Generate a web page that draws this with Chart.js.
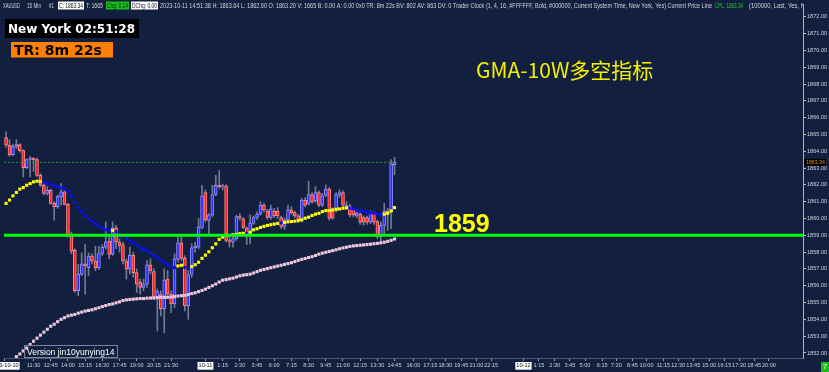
<!DOCTYPE html>
<html><head><meta charset="utf-8">
<script src="https://cdn.jsdelivr.net/npm/chart.js@4.4.0/dist/chart.umd.min.js"></script>
<style>html,body{margin:0;padding:0;background:#131f3f;overflow:hidden}#wrap{width:829px;height:372px;position:relative}</style>
</head><body><div id="wrap"><canvas id="c"></canvas></div>
<script>
// ---- data (15-min XAUUSD bars, slot 0 = 10-10 09:30) ----
const opens = [1864.82,1864.37,1863.80,1864.29,1864.40,1864.04,1863.02,1863.51,1863.60,1863.51,
 1862.57,1861.98,1861.49,1861.68,1860.90,1860.70,1861.30,1861.59,1860.84,1859.04,
 1858.10,1855.71,1856.69,1857.31,1857.08,1857.76,1857.47,1857.08,1857.92,1858.30,
 1858.65,1857.90,1859.45,1858.60,1858.45,1857.47,1856.98,1857.82,1856.78,1856.20,
 1855.90,1856.10,1857.25,1856.84,1855.31,1855.47,1854.63,1856.39,1855.51,1854.92,
 1857.57,1858.55,1857.63,1854.82,1856.69,1858.26,1858.30,1859.47,1861.55,1859.88,
 1860.20,1861.43,1861.98,1861.88,1861.94,1858.69,1858.60,1858.80,1860.12,1859.98,
 1859.43,1859.04,1859.73,1860.06,1860.26,1860.80,1860.45,1860.06,1860.45,1860.45,
 1860.06,1859.53,1859.92,1860.51,1860.35,1860.16,1859.88,1861.10,1860.90,1861.43,
 1861.04,1861.55,1860.80,1861.39,1861.75,1860.51,1860.51,1861.39,1861.55,1860.71,
 1860.71,1860.51,1860.16,1860.26,1860.06,1860.06,1859.78,1860.31,1859.82,1858.94,
 1859.59,1860.45,1860.41,1863.20];
const highs = [1865.16,1864.69,1864.43,1864.69,1864.45,1864.10,1863.55,1863.70,1863.62,1863.60,
 1862.67,1862.10,1861.90,1861.75,1861.00,1861.40,1862.08,1861.65,1860.90,1859.20,
 1858.20,1857.27,1857.96,1858.45,1857.96,1857.90,1858.35,1858.35,1858.45,1859.80,
 1859.00,1859.80,1859.60,1858.80,1858.60,1857.60,1858.30,1858.00,1857.00,1856.40,
 1856.40,1857.50,1857.60,1857.00,1855.80,1855.70,1857.00,1856.90,1855.70,1857.90,
 1858.94,1859.00,1857.80,1856.90,1858.50,1858.60,1860.00,1861.98,1861.70,1860.30,
 1861.98,1862.57,1862.86,1862.05,1862.00,1858.94,1859.00,1860.20,1860.30,1860.05,
 1859.50,1860.22,1860.15,1860.40,1861.00,1860.90,1860.55,1860.80,1860.60,1860.65,
 1860.15,1860.05,1860.80,1860.70,1860.45,1860.25,1861.20,1861.25,1862.22,1861.55,
 1861.90,1861.65,1861.50,1862.00,1861.85,1860.65,1861.55,1861.70,1861.65,1861.00,
 1860.85,1860.60,1860.45,1860.35,1860.15,1860.15,1860.45,1860.40,1859.90,1859.80,
 1860.90,1860.60,1863.50,1863.64];
const lows = [1864.25,1863.70,1863.74,1864.14,1863.95,1862.47,1862.96,1862.47,1862.80,1862.50,
 1861.90,1861.40,1861.40,1860.85,1859.90,1860.60,1860.80,1860.80,1858.90,1857.90,
 1855.60,1855.41,1856.60,1855.50,1856.60,1857.30,1856.90,1856.95,1857.80,1858.20,
 1857.60,1857.80,1858.20,1858.00,1857.30,1856.40,1856.70,1856.50,1855.60,1855.50,
 1855.70,1855.90,1856.70,1855.20,1853.30,1854.20,1853.20,1855.30,1854.40,1854.70,
 1857.40,1857.50,1854.50,1854.00,1856.50,1858.00,1858.20,1859.40,1859.80,1859.04,
 1860.10,1861.35,1861.80,1861.70,1858.60,1858.30,1858.30,1858.70,1859.90,1859.40,
 1858.45,1858.49,1859.65,1859.95,1860.20,1860.40,1859.95,1859.95,1860.05,1860.00,
 1859.40,1859.35,1859.85,1860.25,1860.05,1859.75,1859.80,1860.70,1860.80,1860.90,
 1860.95,1860.70,1860.70,1861.30,1859.90,1859.95,1860.40,1861.25,1860.70,1860.60,
 1860.10,1860.10,1860.05,1859.65,1859.60,1859.65,1859.70,1859.65,1858.80,1858.60,
 1859.00,1859.30,1859.40,1862.60];
const closes = [1864.37,1863.80,1864.29,1864.40,1864.04,1863.02,1863.51,1863.60,1863.50,1862.57,
 1861.98,1861.49,1861.68,1860.90,1860.70,1861.30,1861.59,1860.84,1859.04,1858.06,
 1855.71,1856.69,1857.31,1857.20,1857.76,1857.47,1857.08,1857.92,1858.30,1858.61,
 1857.86,1859.45,1858.60,1858.40,1857.47,1856.98,1857.82,1856.78,1856.10,1855.90,
 1856.10,1857.25,1856.88,1855.31,1855.65,1854.63,1856.33,1855.51,1854.92,1857.60,
 1858.55,1857.63,1854.82,1856.65,1858.26,1858.35,1859.50,1861.35,1859.92,1860.22,
 1861.43,1861.98,1861.88,1861.92,1858.69,1858.59,1858.80,1860.12,1860.02,1859.47,
 1859.14,1859.73,1860.06,1860.26,1860.80,1860.51,1860.06,1860.57,1860.16,1860.16,
 1859.53,1859.92,1860.51,1860.35,1860.16,1859.88,1861.10,1860.80,1861.43,1861.00,
 1861.55,1860.80,1861.35,1861.75,1860.02,1860.02,1861.43,1861.55,1860.80,1860.80,
 1860.22,1860.22,1860.31,1859.78,1859.78,1859.78,1860.31,1859.78,1858.94,1859.59,
 1860.45,1860.31,1863.25,1863.34];
// GMA-10W dotted line and its trend (U = yellow, D = blue)
const gmaValues = [1860.90,1861.10,1861.35,1861.55,1861.75,1861.84,1861.98,1862.08,1862.18,1862.22,
 1862.20,1862.14,1862.10,1862.02,1861.94,1861.88,1861.82,1861.78,1861.63,1861.35,
 1860.96,1860.65,1860.41,1860.16,1859.98,1859.82,1859.67,1859.53,1859.43,1859.33,
 1859.31,1859.29,1859.20,1859.04,1858.94,1858.80,1858.69,1858.55,1858.41,1858.26,
 1858.16,1858.10,1857.96,1857.82,1857.67,1857.51,1857.37,1857.27,1857.12,1857.08,
 1857.18,1857.22,1857.08,1857.04,1857.14,1857.25,1857.40,1857.63,1857.82,1858.02,
 1858.26,1858.49,1858.76,1858.90,1859.00,1859.02,1859.04,1859.06,1859.10,1859.12,
 1859.12,1859.18,1859.33,1859.39,1859.47,1859.53,1859.59,1859.63,1859.67,1859.71,
 1859.75,1859.77,1859.80,1859.82,1859.84,1859.88,1859.92,1860.02,1860.08,1860.18,
 1860.26,1860.31,1860.41,1860.47,1860.47,1860.51,1860.55,1860.57,1860.61,1860.63,
 1860.61,1860.57,1860.51,1860.45,1860.41,1860.37,1860.35,1860.31,1860.26,1860.22,
 1860.26,1860.31,1860.45,1860.65];
const gmaTrend = ("UUUUUUUUUU" + "UDDDDDDDDD" + "DDDDDDDDDD" + "DUDDDDDDDD" + "DDDDDDDDDD" +
 "UUDDUUUUUU" + "UUUUUDUUUU" + "DUUUUUUUUU" + "DUUUUUUUUU" + "UUUUUUUUUU" + "DDDDDDDDDD" + "UUUU").split('');
// slow pink dotted average
const slowValues = [null,null,null,1851.78,1851.94,1852.12,1852.29,1852.50,1852.70,1852.88,
 1853.06,1853.24,1853.41,1853.59,1853.71,1853.86,1854.00,1854.10,1854.20,1854.25,
 1854.29,1854.37,1854.43,1854.49,1854.53,1854.57,1854.63,1854.69,1854.76,1854.82,
 1854.88,1854.92,1854.98,1855.04,1855.12,1855.16,1855.18,1855.20,1855.22,1855.24,
 1855.24,1855.26,1855.27,1855.27,1855.29,1855.31,1855.31,1855.31,1855.33,1855.35,
 1855.39,1855.41,1855.43,1855.47,1855.53,1855.58,1855.65,1855.72,1855.80,1855.90,
 1856.00,1856.10,1856.22,1856.33,1856.37,1856.41,1856.45,1856.52,1856.59,1856.63,
 1856.66,1856.69,1856.76,1856.84,1856.92,1856.97,1857.02,1857.07,1857.12,1857.17,
 1857.22,1857.27,1857.32,1857.37,1857.44,1857.51,1857.57,1857.62,1857.68,1857.73,
 1857.80,1857.88,1857.94,1857.99,1858.04,1858.09,1858.14,1858.20,1858.25,1858.29,
 1858.34,1858.37,1858.39,1858.41,1858.43,1858.45,1858.47,1858.50,1858.52,1858.55,
 1858.59,1858.64,1858.70,1858.78];
const levelLine = 1859;
const currentPrice = 1863.34;
// time axis: tick labels and the bar slot each one sits on
const xTickLabels = ['2023-10-10','11:30','12:45','14:00','15:15','16:30','17:45','19:00','20:15','21:30',
 '10-11','1:15','2:30','3:45','6:00','7:15','8:30','9:45','11:00','12:15','13:30','14:45',
 '16:00','17:15','18:30','19:45','21:00','22:15',
 '10-12','1:15','2:30','3:45','5:00','6:15','7:30','8:45','10:00','11:15','12:30','13:45','15:00','16:15','17:30','18:45','20:00'];
const xTickSlots = [-0.5,8,13,18,23,28,33,38,43,48,
 58,63,68,73,78,83,88,93,98,103,108,113,
 118.5,123.4,127.8,132.4,136.8,141.1,
 150.5,155.0,159.6,164.0,168.4,173.4,177.5,182.2,186.3,191.2,195.5,199.9,204.5,208.9,213.2,217.6,221.9];
const dateLabels = ['2023-10-10','10-11','10-12'];
const xMin = -0.6, xMax = 231.8;
const yMin = 1851.7, yMax = 1872.765;

const BG = '#131f3f';
const SANS = "'Liberation Sans', Arial, sans-serif";

const wickData = lows.map((l, i) => ({x: i, y: [l, highs[i]]}));
const bodyData = opens.map((o, i) => ({x: i, y: [o, closes[i]]}));
const gmaData = gmaValues.map((v, i) => ({x: i, y: v}));
const slowData = slowValues.map((v, i) => ({x: i, y: v}));
const isUp = i => closes[i] >= opens[i];

const headerSegs = [
  {t:'XAUUSD', x:3, w:17},
  {t:'15 Min', x:27, w:14},
  {t:'#1', x:49, w:5},
  {t:'C: 1863.34', x:59, w:24, box:'#ffffff', color:'#111111'},
  {t:'T: 1665', x:86, w:17},
  {t:'Chg: 0.14', x:107, w:21, box:'#1bc21b', color:'#111111'},
  {t:'DChg: 0.00', x:132, w:25, box:'#ffffff', color:'#111111'},
  {t:'2023-10-11 14:51:38 H: 1863.64 L: 1862.60 O: 1863.20 V: 1665 B: 0.00 A: 0.00 0x0 TR: 8m 22s BV: 802 AV: 863 DV: 0 Trader Clock (1, 4, 16, #FFFFFF, Bold, #000000, Current System Time, New York, Yes) Current Price Line', x:160, w:552},
  {t:'CPL: 1863.34', x:715, w:28, color:'#22cc22'},
  {t:'(100000, Last, Yes, N', x:749, w:56}
];

const overlay = {
  id: 'overlay',
  beforeDraw(chart) {
    const c = chart.ctx;
    c.save(); c.fillStyle = BG; c.fillRect(0, 0, chart.width, chart.height); c.restore();
  },
  afterDraw(chart) {
    const c = chart.ctx;
    const ys = chart.scales.y;
    c.save();
    c.beginPath(); c.rect(0, 0, 803, 12); c.clip();
    c.font = '6.5px ' + SANS; c.textBaseline = 'middle'; c.textAlign = 'left';
    headerSegs.forEach(s => {
      if (s.box) { c.fillStyle = s.box; c.fillRect(s.x - 1, 1.5, s.w + 2, 8); }
      c.fillStyle = s.color || '#cfd3de';
      c.fillText(s.t, s.x, 5.8, s.w);
    });
    c.restore();

    c.save();
    c.fillStyle = '#000000'; c.fillRect(5, 19, 134, 19);
    c.fillStyle = '#ffffff'; c.font = "bold 12px 'DejaVu Sans', sans-serif"; c.textBaseline = 'alphabetic';
    c.fillText('New York 02:51:28', 8, 33, 130);
    c.fillStyle = '#ff8000'; c.fillRect(11, 42, 102, 15.5);
    c.fillStyle = '#000000'; c.font = "bold 14px 'DejaVu Sans', sans-serif";
    c.fillText('TR: 8m 22s', 14, 54.5, 94);
    c.fillStyle = '#f2f200'; c.font = "21px 'Noto Sans CJK SC', sans-serif";
    c.fillText('GMA-10W多空指标', 476, 78, 178);
    c.fillStyle = '#ffff00'; c.font = 'bold 25px ' + SANS;
    c.fillText(String(levelLine), 434, ys.getPixelForValue(levelLine) - 3);
    c.strokeStyle = '#7d8497'; c.lineWidth = 1; c.strokeRect(24.5, 345.5, 93, 12);
    c.fillStyle = '#ffffff'; c.font = '8.5px ' + SANS;
    c.fillText('Version jin10yunying14', 27, 355, 89);
    const py = ys.getPixelForValue(currentPrice);
    c.fillStyle = '#000000'; c.fillRect(804, py - 3.5, 22, 7);
    c.fillStyle = '#f08a10'; c.font = '5.6px ' + SANS; c.textBaseline = 'middle';
    c.fillText(currentPrice.toFixed(2), 806, py + 0.3, 19);
    c.fillStyle = '#22bb22'; c.fillRect(821, 362, 8, 10);
    c.fillStyle = '#ffffff'; c.font = '7px ' + SANS; c.fillText('7', 823, 367.5);
    c.restore();
  }
};

new Chart(document.getElementById('c'), {
  type: 'line',
  data: {
    datasets: [
      {type:'line', label:'level', data:[{x:xMin, y:levelLine},{x:xMax, y:levelLine}], borderColor:'#00ff00', borderWidth:3, pointRadius:0, order:0},
      {type:'line', label:'gma', data:gmaData, showLine:false, pointStyle:'rect', pointRadius:2.2, pointBorderWidth:0,
        pointBackgroundColor: ctx => gmaTrend[ctx.dataIndex] === 'U' ? '#ffff00' : '#0a10ee', order:1},
      {type:'line', label:'slow', data:slowData, showLine:false, pointStyle:'rect', pointRadius:2.2, pointBorderWidth:0,
        pointBackgroundColor:'#ecc6dc', order:1},
      {type:'line', label:'cpl', data:[{x:xMin, y:currentPrice},{x:opens.length - 1, y:currentPrice}], borderColor:'#229a2e', borderWidth:1, borderDash:[2,2], pointRadius:0, order:2},
      {type:'bar', label:'body', data:bodyData, grouped:false, barThickness:3, minBarLength:1,
        backgroundColor: ctx => isUp(ctx.dataIndex) ? '#2b2bff' : '#ff1e1e',
        borderColor: ctx => isUp(ctx.dataIndex) ? '#8f8fff' : '#ff8a8a',
        borderWidth:1, borderSkipped:false, order:3},
      {type:'bar', label:'wick', data:wickData, grouped:false, barThickness:1, backgroundColor:'#727a8e', borderWidth:0, order:4}
    ]
  },
  options: {
    responsive: true, maintainAspectRatio: false, animation: false, devicePixelRatio: 1,
    layout: {padding: {left: 1, top: 0, right: 0, bottom: 0}},
    plugins: {legend: {display: false}, tooltip: {enabled: false}},
    scales: {
      x: {
        type: 'linear', min: xMin, max: xMax, offset: false,
        grid: {display: true, drawOnChartArea: false, offset: false, tickLength: 3, color: '#9aa1b4'},
        border: {display: true, color: '#4a5570'},
        afterBuildTicks: s => { s.ticks = xTickSlots.map(v => ({value: v})); },
        afterFit: s => { s.height = 14; s.paddingLeft = 0; s.paddingRight = 0; },
        ticks: {
          autoSkip: false, maxRotation: 0, minRotation: 0, padding: 1.5,
          font: {family: SANS, size: 5.6},
          color: ctx => dateLabels.includes(xTickLabels[ctx.index]) ? '#111111' : '#cdd1dc',
          showLabelBackdrop: ctx => dateLabels.includes(xTickLabels[ctx.index]),
          backdropColor: '#ffffff', backdropPadding: {x: 1, y: 0.5},
          callback: (v, i) => xTickLabels[i]
        }
      },
      y: {
        type: 'linear', position: 'right', min: yMin, max: yMax,
        grid: {display: true, drawOnChartArea: false, tickLength: 3, color: '#b8bfcc'},
        border: {display: true, color: '#a9b1c3'},
        afterFit: s => { s.width = 26; s.paddingTop = 0; s.paddingBottom = 0; },
        ticks: {
          stepSize: 1, includeBounds: false, padding: 1,
          font: {family: SANS, size: 5.6}, color: '#cdd1dc',
          callback: v => Number(v).toFixed(2)
        }
      }
    }
  },
  plugins: [overlay]
});
</script>
</body></html>
